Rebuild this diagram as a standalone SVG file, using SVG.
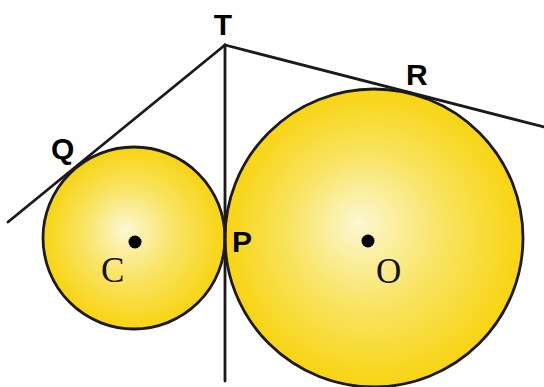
<svg xmlns="http://www.w3.org/2000/svg" width="544" height="387" viewBox="0 0 544 387">
<style>
.ln{stroke:#1a1a1a;stroke-width:2.8;fill:none;stroke-linecap:round}
.circ{stroke:#1a1a1a;stroke-width:2.8}
.lb{font-family:"Liberation Sans",Arial,sans-serif;font-weight:bold;font-size:30px;fill:#000}
.ctr{font-family:"Liberation Serif","Times New Roman",serif;font-size:35px;fill:#111}
</style>
<defs>
<radialGradient id="g" cx="0.5" cy="0.5" r="0.5" fx="0.45" fy="0.45">
<stop offset="0" stop-color="#fcf8d2"/>
<stop offset="0.5" stop-color="#f9e464"/>
<stop offset="1" stop-color="#f8d412"/>
</radialGradient>
</defs>
<rect width="544" height="387" fill="#fff"/>
<g id="circleC">
<circle class="circ" cx="134" cy="238" r="91" fill="url(#g)"/>
<circle cx="135" cy="242" r="6.5" fill="#000"/>
<text class="ctr" x="101" y="282">C</text>
</g>
<g id="circleO">
<circle class="circ" cx="374" cy="238" r="149" fill="url(#g)"/>
<circle cx="368" cy="241" r="6.5" fill="#000"/>
<text class="ctr" x="376" y="283">O</text>
</g>
<g id="connectors">
<line class="ln" x1="225" y1="45" x2="8" y2="222"/>
<line class="ln" x1="225" y1="45" x2="544" y2="127"/>
<line class="ln" x1="225" y1="45" x2="225" y2="381"/>
</g>
<g id="labels">
<text class="lb" x="223" y="35" text-anchor="middle">T</text>
<text class="lb" x="51" y="159">Q</text>
<text class="lb" x="406" y="85">R</text>
<text class="lb" x="232" y="252">P</text>
</g>
</svg>
